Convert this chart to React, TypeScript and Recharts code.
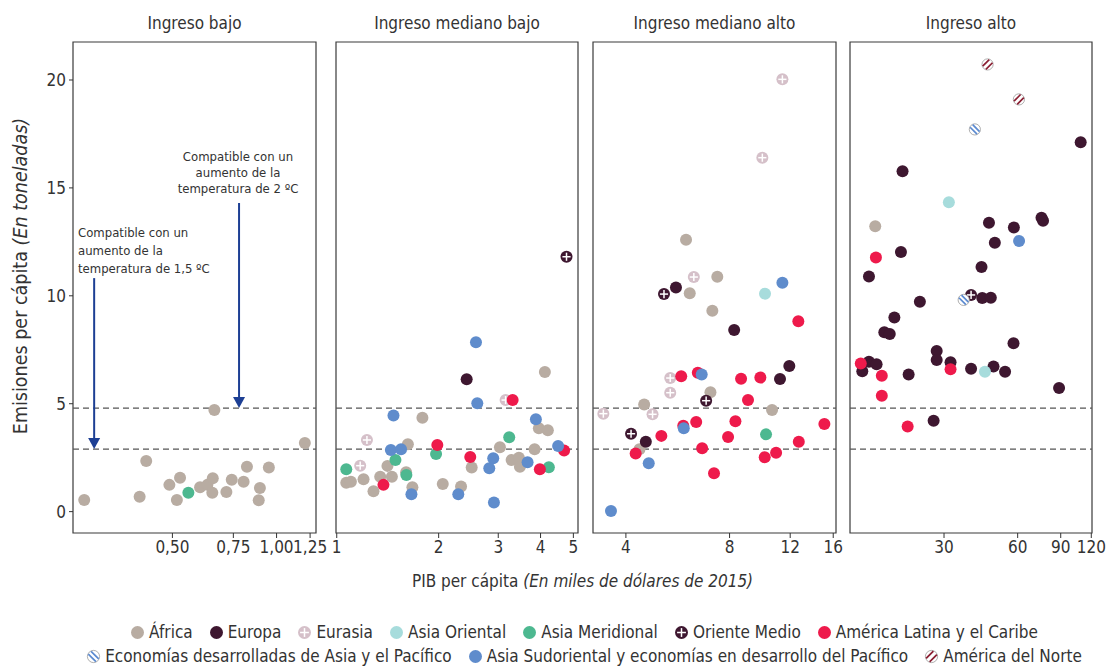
import React from "react";
import {
    ScatterChart,
    Scatter,
    XAxis,
    YAxis,
    ReferenceLine,
    ReferenceArea,
} from "recharts";

type Pt = [number, number];

// PIB per cápita (miles de USD 2015), emisiones per cápita (t)

// Ingreso bajo
const bajoAfrica: Pt[] = [
    [0.278, 0.54], [0.402, 0.69], [0.42, 2.35], [0.49, 1.24], [0.515, 0.54],
    [0.526, 1.57], [0.601, 1.13], [0.631, 1.24], [0.654, 1.55], [0.652, 0.88],
    [0.661, 4.71], [0.716, 0.91], [0.742, 1.48], [0.803, 1.39], [0.821, 2.08],
    [0.895, 1.1], [0.888, 0.53], [0.95, 2.04], [1.207, 3.18],
];
const bajoAsiaMeridional: Pt[] = [[0.556, 0.87]];

// Ingreso mediano bajo
const medBajoAfrica: Pt[] = [
    [1.067, 1.34], [1.101, 1.39], [1.2, 1.5], [1.284, 0.94], [1.344, 1.62],
    [1.412, 2.12], [1.455, 1.62], [1.622, 3.12], [1.603, 1.82], [1.673, 1.13],
    [1.791, 4.35], [2.057, 1.28], [2.329, 1.16], [2.504, 2.04], [3.034, 2.98],
    [3.285, 2.39], [3.452, 2.5], [3.476, 2.08], [3.841, 2.89], [3.954, 3.86],
    [4.203, 3.77], [4.119, 6.47],
];
const medBajoEuropa: Pt[] = [[2.42, 6.13]];
const medBajoEurasia: Pt[] = [[1.228, 3.32], [1.173, 2.13], [3.154, 5.17]];
const medBajoAsiaMeridional: Pt[] = [
    [1.067, 1.96], [1.491, 2.39], [1.606, 1.7], [1.965, 2.67], [3.232, 3.45], [4.232, 2.06],
];
const medBajoOrienteMedio: Pt[] = [[4.772, 11.81]];
const medBajoAmLatina: Pt[] = [
    [1.374, 1.24], [1.982, 3.09], [2.48, 2.53], [3.308, 5.17], [3.981, 1.96], [4.695, 2.83],
];
const medBajoAsiaSudoriental: Pt[] = [
    [1.471, 4.45], [1.445, 2.86], [1.549, 2.89], [1.662, 0.81], [2.286, 0.81],
    [2.578, 7.85], [2.601, 5.02], [2.822, 2.01], [2.899, 2.47], [2.913, 0.42],
    [3.662, 2.29], [3.875, 4.28], [4.508, 3.04],
];

// Ingreso mediano alto
const medAltoAfrica: Pt[] = [
    [5.98, 12.6], [7.37, 10.88], [6.13, 10.12], [7.13, 9.31], [7.04, 5.53],
    [4.52, 4.96], [10.63, 4.71], [4.38, 2.89],
];
const medAltoEuropa: Pt[] = [[5.59, 10.39], [8.25, 8.42], [11.93, 6.75], [11.21, 6.15], [4.57, 3.24]];
const medAltoEurasia: Pt[] = [
    [11.39, 20.03], [9.96, 16.4], [6.3, 10.87], [5.38, 6.19], [5.38, 5.51], [3.44, 4.54], [4.78, 4.51],
];
const medAltoAsiaOriental: Pt[] = [[10.14, 10.1]];
const medAltoAsiaMeridional: Pt[] = [[10.21, 3.58]];
const medAltoOrienteMedio: Pt[] = [[5.16, 10.08], [6.84, 5.14], [4.14, 3.61]];
const medAltoAmLatina: Pt[] = [
    [12.67, 8.82], [5.79, 6.27], [6.47, 6.44], [8.64, 6.16], [9.83, 6.21], [9.05, 5.17],
    [5.07, 3.51], [5.87, 3.98], [6.4, 4.15], [6.66, 2.94], [8.32, 4.19], [7.92, 3.46],
    [10.12, 2.52], [10.92, 2.73], [12.71, 3.24], [15.08, 4.06], [7.21, 1.78], [4.27, 2.69],
];
const medAltoAsiaSudoriental: Pt[] = [[11.39, 10.61], [6.64, 6.35], [5.89, 3.86], [4.66, 2.24], [3.62, 0.03]];

// Ingreso alto
const altoAfrica: Pt[] = [[15.7, 13.22]];
const altoEuropa: Pt[] = [
    [108.6, 17.11], [20.3, 15.77], [45.8, 13.39], [57.9, 13.17], [75.1, 13.62], [76.2, 13.48],
    [48.4, 12.46], [20.0, 12.03], [42.7, 11.33], [14.8, 10.9], [43.0, 9.9], [46.6, 9.91],
    [23.9, 9.73], [18.8, 9.0], [17.1, 8.31], [18.0, 8.23], [57.7, 7.8], [28.0, 7.44],
    [28.0, 7.03], [14.8, 6.95], [15.9, 6.83], [13.9, 6.5], [21.5, 6.35], [31.9, 6.92],
    [38.7, 6.62], [47.8, 6.73], [53.3, 6.48], [88.6, 5.73], [27.2, 4.21],
];
const altoAsiaOriental: Pt[] = [[31.4, 14.34], [44.1, 6.48]];
const altoOrienteMedio: Pt[] = [[38.7, 10.04]];
const altoAmLatina: Pt[] = [[15.8, 11.78], [13.7, 6.86], [16.7, 6.3], [31.9, 6.6], [16.7, 5.37], [21.3, 3.94]];
const altoEconDesarrolladas: Pt[] = [[40.1, 17.71], [36.1, 9.81]];
const altoAsiaSudoriental: Pt[] = [[60.8, 12.54]];
const altoNorteamerica: Pt[] = [[45.2, 20.72], [60.7, 19.1]];

const Y_TICKS = [0, 5, 10, 15, 20];
const Y_DOMAIN: [number, number] = [-0.99, 21.76];
const LIMIT_2C = 4.8;
const LIMIT_15C = 2.9;

const FONT = "'Liberation Sans Narrow', 'DejaVu Sans Condensed', 'Arial Narrow', Arial, sans-serif";
const TEXT = "#333";
const ARROW = "#1d3f94";

type Kind = "dot" | "cross" | "hatchBack" | "hatchFwd";
type Region = { key: string; name: string; color: string; kind: Kind };

const REGIONS: Region[] = [
    { key: "africa", name: "África", color: "#b8aca2", kind: "dot" },
    { key: "europa", name: "Europa", color: "#3e1730", kind: "dot" },
    { key: "eurasia", name: "Eurasia", color: "#d5c0c9", kind: "cross" },
    { key: "asiaOriental", name: "Asia Oriental", color: "#a7dcdc", kind: "dot" },
    { key: "asiaMeridional", name: "Asia Meridional", color: "#4db890", kind: "dot" },
    { key: "orienteMedio", name: "Oriente Medio", color: "#3e1730", kind: "cross" },
    { key: "amLatina", name: "América Latina y el Caribe", color: "#ee1a4b", kind: "dot" },
    { key: "econDes", name: "Economías desarrolladas de Asia y el Pacífico", color: "#5b8ad0", kind: "hatchBack" },
    { key: "asiaSud", name: "Asia Sudoriental y economías en desarrollo del Pacífico", color: "#5f8ccc", kind: "dot" },
    { key: "norteamerica", name: "América del Norte", color: "#8a1e32", kind: "hatchFwd" },
];

// draw order (África underneath)
const DRAW_ORDER = [
    "africa", "eurasia", "europa", "asiaOriental", "asiaMeridional", "orienteMedio",
    "amLatina", "asiaSud", "econDes", "norteamerica",
];

type PanelDef = {
    title: string;
    left: number;
    w: number;
    domain: [number, number];
    ticks: number[];
    fmt: (v: number) => string;
    series: Record<string, Pt[]>;
};

const plainFmt = (v: number) => String(v);

const PANELS: PanelDef[] = [
    {
        title: "Ingreso bajo",
        left: 73,
        w: 243,
        domain: [0.258, 1.3],
        ticks: [0.5, 0.75, 1, 1.25],
        fmt: (v) => v.toFixed(2).replace(".", ","),
        series: { africa: bajoAfrica, asiaMeridional: bajoAsiaMeridional },
    },
    {
        title: "Ingreso mediano bajo",
        left: 336,
        w: 242,
        domain: [0.995, 5.16],
        ticks: [1, 2, 3, 4, 5],
        fmt: plainFmt,
        series: {
            africa: medBajoAfrica,
            europa: medBajoEuropa,
            eurasia: medBajoEurasia,
            asiaMeridional: medBajoAsiaMeridional,
            orienteMedio: medBajoOrienteMedio,
            amLatina: medBajoAmLatina,
            asiaSud: medBajoAsiaSudoriental,
        },
    },
    {
        title: "Ingreso mediano alto",
        left: 593,
        w: 243,
        domain: [3.21, 16.3],
        ticks: [4, 8, 12, 16],
        fmt: plainFmt,
        series: {
            africa: medAltoAfrica,
            europa: medAltoEuropa,
            eurasia: medAltoEurasia,
            asiaOriental: medAltoAsiaOriental,
            asiaMeridional: medAltoAsiaMeridional,
            orienteMedio: medAltoOrienteMedio,
            amLatina: medAltoAmLatina,
            asiaSud: medAltoAsiaSudoriental,
        },
    },
    {
        title: "Ingreso alto",
        left: 850,
        w: 242,
        domain: [12.38, 120.8],
        ticks: [30, 60, 90, 120],
        fmt: plainFmt,
        series: {
            africa: altoAfrica,
            europa: altoEuropa,
            asiaOriental: altoAsiaOriental,
            orienteMedio: altoOrienteMedio,
            amLatina: altoAmLatina,
            econDes: altoEconDesarrolladas,
            asiaSud: altoAsiaSudoriental,
            norteamerica: altoNorteamerica,
        },
    },
];

const PLOT_TOP = 42;
const PLOT_H = 491;
const PAD = 16;
const PAD_TOP = 2;
const X_AXIS_H = 32;
const Y_AXIS_W = 73;

function chord(cx: number, cy: number, r: number, off: number, dir: 1 | -1) {
    // line at 45° offset perpendicular by `off`, clipped to circle
    const half = Math.sqrt(Math.max(r * r - off * off, 0));
    const ux = Math.SQRT1_2;
    const uy = -Math.SQRT1_2 * dir;
    const nx = -uy;
    const ny = ux;
    const mx = cx + nx * off;
    const my = cy + ny * off;
    return { x1: mx - ux * half, y1: my - uy * half, x2: mx + ux * half, y2: my + uy * half };
}

function Marker({ cx, cy, r, region }: { cx: number; cy: number; r: number; region: Region }) {
    const { color, kind } = region;
    if (kind === "dot") return <circle cx={cx} cy={cy} r={r} fill={color} />;
    if (kind === "cross") {
        const a = r * 0.68;
        return (
            <g>
                <circle cx={cx} cy={cy} r={r} fill={color} />
                <line x1={cx - a} y1={cy} x2={cx + a} y2={cy} stroke="#fff" strokeWidth={1.5} />
                <line x1={cx} y1={cy - a} x2={cx} y2={cy + a} stroke="#fff" strokeWidth={1.5} />
            </g>
        );
    }
    const dir: 1 | -1 = kind === "hatchFwd" ? 1 : -1;
    const offs = kind === "hatchFwd" ? [-r * 0.38, r * 0.38] : [-r * 0.3, r * 0.3];
    return (
        <g>
            <circle cx={cx} cy={cy} r={r - 0.4} fill="#fff" stroke="#9a9a9a" strokeWidth={0.8} />
            {offs.map((o, i) => {
                const c = chord(cx, cy, r - 0.8, o, dir);
                return <line key={i} {...c} stroke={color} strokeWidth={1.7} />;
            })}
        </g>
    );
}

const ArrowShape = (props: any) => {
    const { x1, y1, x2, y2 } = props;
    const head = 11;
    return (
        <g>
            <line x1={x1} y1={y1} x2={x2} y2={y2 - head + 1} stroke={ARROW} strokeWidth={2} />
            <polygon points={`${x2 - 6},${y2 - head} ${x2 + 6},${y2 - head} ${x2},${y2}`} fill={ARROW} />
        </g>
    );
};

function Panel({ p, first }: { p: PanelDef; first: boolean }) {
    const L = first ? Y_AXIS_W : PAD;
    const width = L + p.w + PAD;
    const height = PAD_TOP + PLOT_H + X_AXIS_H;
    return (
        <div style={{ position: "absolute", left: p.left - L, top: PLOT_TOP - PAD_TOP }}>
            <ScatterChart
                width={width}
                height={height}
                margin={{ top: PAD_TOP, right: PAD, bottom: 0, left: first ? 0 : PAD }}
            >
                <XAxis
                    type="number"
                    dataKey="x"
                    scale="log"
                    domain={p.domain}
                    ticks={p.ticks}
                    allowDataOverflow
                    interval={0}
                    tickFormatter={p.fmt}
                    axisLine={false}
                    tickSize={5}
                    tickMargin={3}
                    tickLine={{ stroke: TEXT }}
                    tick={{ fill: TEXT, fontSize: 17 }}
                    height={X_AXIS_H}
                />
                <YAxis
                    type="number"
                    dataKey="y"
                    domain={Y_DOMAIN}
                    ticks={Y_TICKS}
                    allowDataOverflow
                    hide={!first}
                    width={Y_AXIS_W}
                    axisLine={false}
                    tickSize={4}
                    tickMargin={3}
                    tickLine={{ stroke: TEXT }}
                    tick={{ fill: TEXT, fontSize: 17 }}
                />
                <ReferenceLine y={LIMIT_2C} stroke="#555" strokeDasharray="6 4" strokeWidth={1.2} />
                <ReferenceLine y={LIMIT_15C} stroke="#555" strokeDasharray="6 4" strokeWidth={1.2} />
                {first && (
                    <ReferenceLine
                        segment={[{ x: 0.779, y: 14.3 }, { x: 0.779, y: LIMIT_2C }]}
                        shape={ArrowShape}
                    />
                )}
                {first && (
                    <ReferenceLine
                        segment={[{ x: 0.297, y: 10.82 }, { x: 0.297, y: LIMIT_15C }]}
                        shape={ArrowShape}
                    />
                )}
                {DRAW_ORDER.map((key) => {
                    const pts = p.series[key];
                    if (!pts) return null;
                    const region = REGIONS.find((r) => r.key === key)!;
                    return (
                        <Scatter
                            key={key}
                            name={region.name}
                            data={pts.map(([x, y]) => ({ x, y }))}
                            fill={region.color}
                            isAnimationActive={false}
                            shape={(s: any) => <Marker cx={s.cx} cy={s.cy} r={6} region={region} />}
                        />
                    );
                })}
                <ReferenceArea
                    x1={p.domain[0]}
                    x2={p.domain[1]}
                    y1={Y_DOMAIN[0]}
                    y2={Y_DOMAIN[1]}
                    fill="none"
                    fillOpacity={0}
                    stroke="#3a3a3a"
                    strokeWidth={1.2}
                />
            </ScatterChart>
        </div>
    );
}

function LegendItem({ region }: { region: Region }) {
    return (
        <span style={{ display: "inline-flex", alignItems: "center", whiteSpace: "nowrap" }}>
            <svg width={15} height={15} style={{ marginRight: 4 }}>
                <Marker cx={7.5} cy={7.5} r={6.5} region={region} />
            </svg>
            {region.name}
        </span>
    );
}

const LEGEND_ROW1 = ["africa", "europa", "eurasia", "asiaOriental", "asiaMeridional", "orienteMedio", "amLatina"];
const LEGEND_ROW2 = ["econDes", "asiaSud", "norteamerica"];

export default function App() {
    const row = (keys: string[], top: number) => (
        <div
            style={{
                position: "absolute",
                left: 0,
                width: 1168,
                top,
                display: "flex",
                justifyContent: "center",
                gap: 16,
                fontSize: 17,
                color: TEXT,
            }}
        >
            {keys.map((k) => (
                <LegendItem key={k} region={REGIONS.find((r) => r.key === k)!} />
            ))}
        </div>
    );

    return (
        <div
            style={{
                position: "absolute",
                left: 0,
                top: 0,
                width: 1109,
                height: 666,
                background: "#fff",
                fontFamily: FONT,
                color: TEXT,
                overflow: "hidden",
            }}
        >
            {PANELS.map((p) => (
                <div
                    key={p.title + "-t"}
                    style={{
                        position: "absolute",
                        left: p.left,
                        width: p.w,
                        top: 13,
                        textAlign: "center",
                        fontSize: 17,
                    }}
                >
                    {p.title}
                </div>
            ))}
            {PANELS.map((p, i) => (
                <Panel key={p.title} p={p} first={i === 0} />
            ))}

            {/* anotaciones */}
            <div
                style={{
                    position: "absolute",
                    left: 168,
                    width: 140,
                    top: 149,
                    textAlign: "center",
                    fontSize: 13,
                    lineHeight: "16px",
                }}
            >
                Compatible con un
                <br />
                aumento de la
                <br />
                temperatura de 2 ºC
            </div>
            <div
                style={{
                    position: "absolute",
                    left: 78,
                    top: 224,
                    fontSize: 13,
                    lineHeight: "18px",
                    whiteSpace: "nowrap",
                }}
            >
                Compatible con un
                <br />
                aumento de la
                <br />
                temperatura de 1,5 ºC
            </div>

            {/* eje y */}
            <div
                style={{
                    position: "absolute",
                    left: 20,
                    top: 276,
                    transform: "translate(-50%, -50%) rotate(-90deg)",
                    whiteSpace: "nowrap",
                    fontSize: 19.5,
                }}
            >
                Emisiones per cápita <i>(En toneladas)</i>
            </div>

            {/* eje x */}
            <div
                style={{
                    position: "absolute",
                    left: 73,
                    width: 1019,
                    top: 571,
                    textAlign: "center",
                    fontSize: 17,
                    whiteSpace: "nowrap",
                }}
            >
                PIB per cápita <i>(En miles de dólares de 2015)</i>
            </div>

            {row(LEGEND_ROW1, 622)}
            {row(LEGEND_ROW2, 646)}
        </div>
    );
}
